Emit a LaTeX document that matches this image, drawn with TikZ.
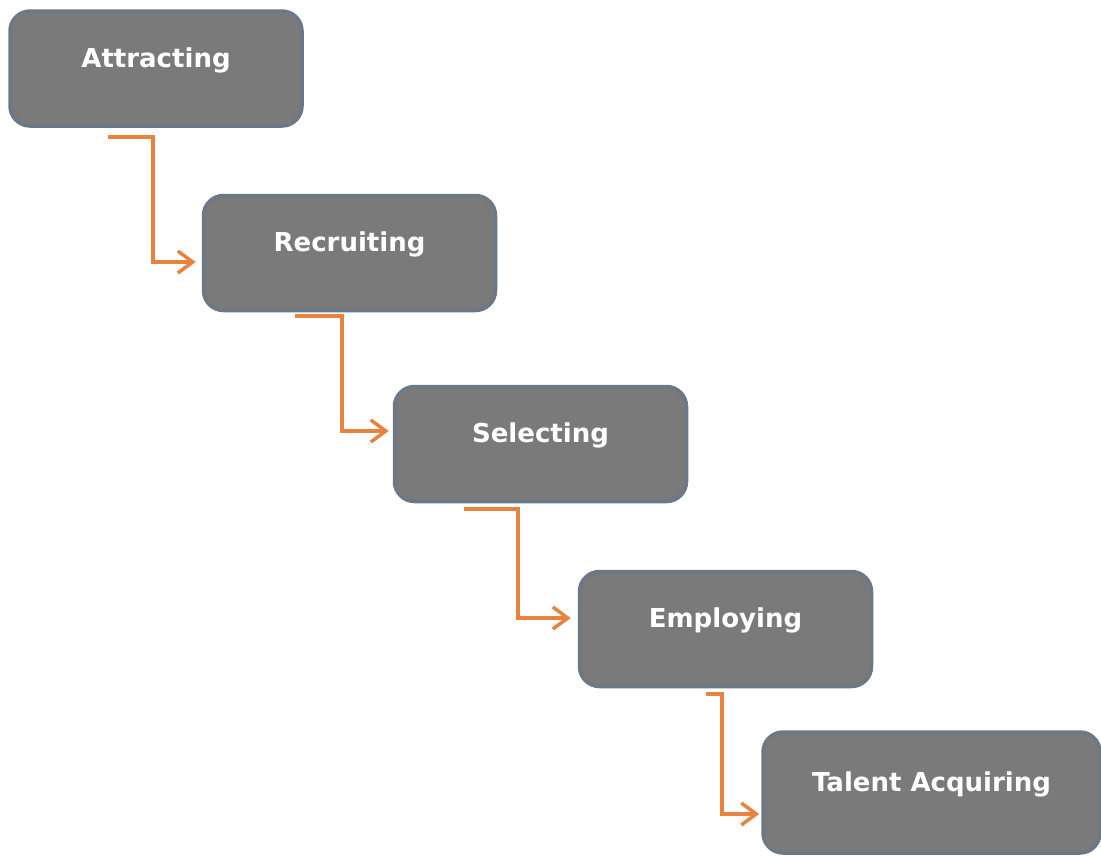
\documentclass[tikz,border=0pt]{standalone}
\usepackage{fontspec}
\setmainfont{DejaVu Sans}
\usetikzlibrary{arrows.meta}

\definecolor{boxgray}{HTML}{7A7A7A}
\definecolor{boxedge}{HTML}{6A7888}
\definecolor{flowline}{HTML}{E8823F}

\begin{document}
\begin{tikzpicture}[x=1pt, y=1pt,
  stage/.style = {draw=boxedge, line width=3.5pt, fill=boxgray, rounded corners=20pt,
                  minimum width=292pt, minimum height=115pt, inner sep=0pt,
                  text=white, font=\fontsize{26}{30}\selectfont\bfseries,
                  text height=20pt, text depth=23pt},
  flow/.style  = {draw=flowline, line width=3.5pt,
                  -{Straight Barb[length=15pt, width=22pt, line width=3.5pt]}}]
\useasboundingbox (0,0) rectangle (1101,-855);

% the five stages
\node[stage] (att) at (156,-68.5) {Attracting};
\node[stage] (rec) at (349.5,-253) {Recruiting};
\node[stage] (sel) at (540.5,-444) {Selecting};
\node[stage] (emp) at (725.5,-629) {Employing};
\node[stage, minimum width=337pt, minimum height=121pt] (tal) at (931.5,-792.5) {Talent Acquiring};

% where each connector leaves
\coordinate (att-out) at (108,-137);
\coordinate (rec-out) at (295,-316);
\coordinate (sel-out) at (464,-509);
\coordinate (emp-out) at (706,-694);

\draw[flow, shorten >=6pt] (att-out) -- ++(45,0) |- ([yshift=-9pt]rec.west);
\draw[flow, shorten >=4pt] (rec-out) -- ++(47,0) |- ([yshift=13pt]sel.west);
\draw[flow, shorten >=7pt] (sel-out) -- ++(54,0) |- ([yshift=11pt]emp.west);
\draw[flow, shorten >=2pt] (emp-out) -- ++(16,0) |- ([yshift=-21.5pt]tal.west);
\end{tikzpicture}
\end{document}
